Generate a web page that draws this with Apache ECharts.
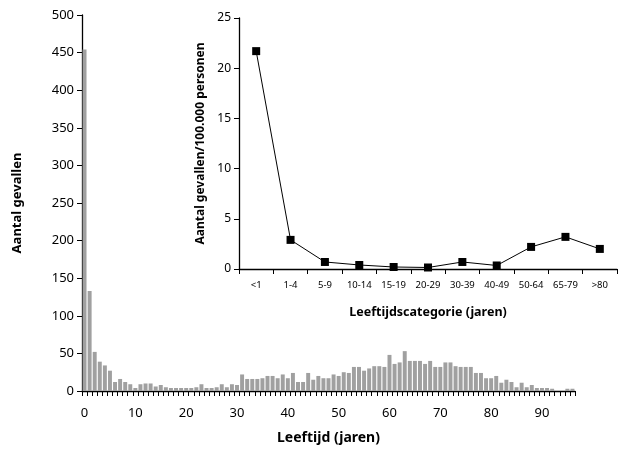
<!DOCTYPE html>
<html><head><meta charset="utf-8">
<script src="https://cdn.jsdelivr.net/npm/echarts/dist/echarts.min.js"></script>
<style>html,body{margin:0;padding:0;background:#fff}#c{width:618px;height:450px}</style>
</head><body><div id="c"></div>
<script>
// Main chart: number of cases per year of age
const ages = ['0','1','2','3','4','5','6','7','8','9','10','11','12','13','14','15','16','17','18','19',
  '20','21','22','23','24','25','26','27','28','29','30','31','32','33','34','35','36','37','38','39',
  '40','41','42','43','44','45','46','47','48','49','50','51','52','53','54','55','56','57','58','59',
  '60','61','62','63','64','65','66','67','68','69','70','71','72','73','74','75','76','77','78','79',
  '80','81','82','83','84','85','86','87','88','89','90','91','92','93','94','95','96'];
const cases = [454,133,52,39,34,27,12,16,12,9,4,9,10,10,6,8,5,4,4,4,
  4,4,5,9,4,4,5,9,5,9,8,22,16,16,16,17,20,20,17,22,
  17,24,12,12,24,15,20,17,17,22,20,25,24,32,32,27,30,33,33,32,
  48,36,38,53,40,40,40,36,40,32,32,38,38,33,32,32,32,24,24,17,
  17,20,11,15,12,5,11,5,8,4,4,4,3,0,0,3,3];
const ageTickLabels = ['0','10','20','30','40','50','60','70','80','90'];

// Inset: incidence per 100,000 persons by age group
const groups = ['<1','1-4','5-9','10-14','15-19','20-29','30-39','40-49','50-64','65-79','>80'];
const incidence = [21.7,2.9,0.7,0.4,0.2,0.15,0.7,0.35,2.2,3.2,2.0];

const FONT = 'Noto Sans';
const axisBlack = {lineStyle:{color:'#000', width:1.3}};
const chart = echarts.init(document.getElementById('c'));
chart.setOption({
  animation:false,
  textStyle:{fontFamily:FONT},
  grid:[
    {left:82, right:43, top:15, bottom:54},
    {left:239, right:1, top:18, bottom:181}
  ],
  xAxis:[
    {type:'category', gridIndex:0, data:ages, boundaryGap:true,
     axisLine:axisBlack,
     axisTick:{show:true, interval:0, length:5, lineStyle:{color:'#000', width:1}},
     axisLabel:{interval:0, margin:16, fontSize:13, color:'#000', fontFamily:FONT,
       formatter:v=>ageTickLabels.includes(v)?v:''},
     name:'Leeftijd (jaren)', nameLocation:'middle', nameGap:40,
     nameTextStyle:{fontWeight:'bold', fontSize:14, color:'#000', fontFamily:FONT}},
    {type:'category', gridIndex:1, data:groups, boundaryGap:true,
     axisLine:axisBlack,
     axisTick:{show:true, interval:0, length:5, lineStyle:{color:'#000', width:1}},
     axisLabel:{interval:0, margin:11, fontSize:9.5, color:'#000', fontFamily:FONT},
     name:'Leeftijdscategorie (jaren)', nameLocation:'middle', nameGap:37,
     nameTextStyle:{fontWeight:'bold', fontSize:12.5, color:'#000', fontFamily:FONT}}
  ],
  yAxis:[
    {type:'value', gridIndex:0, min:0, max:500, interval:50,
     axisLine:{show:true, lineStyle:{color:'#000', width:1.3}},
     axisTick:{show:true, length:5, lineStyle:{color:'#000'}},
     splitLine:{show:false},
     axisLabel:{fontSize:13, color:'#000', margin:8, fontFamily:FONT},
     name:'Aantal gevallen', nameLocation:'middle', nameGap:58,
     nameTextStyle:{fontWeight:'bold', fontSize:13, color:'#000', fontFamily:FONT}},
    {type:'value', gridIndex:1, min:0, max:25, interval:5,
     axisLine:{show:true, lineStyle:{color:'#000', width:1.3}},
     axisTick:{show:true, length:5, lineStyle:{color:'#000'}},
     splitLine:{show:false},
     axisLabel:{fontSize:12, color:'#000', margin:8, fontFamily:FONT},
     name:'Aantal gevallen/100.000 personen', nameLocation:'middle', nameGap:30,
     nameTextStyle:{fontWeight:'bold', fontSize:12, color:'#000', fontFamily:FONT}}
  ],
  series:[
    {type:'bar', xAxisIndex:0, yAxisIndex:0, data:cases, barCategoryGap:'22%',
     itemStyle:{color:'#a0a0a0'}},
    {type:'line', xAxisIndex:1, yAxisIndex:1, data:incidence, symbol:'rect', symbolSize:8,
     itemStyle:{color:'#000'}, lineStyle:{color:'#000', width:1}}
  ]
});
</script></body></html>
